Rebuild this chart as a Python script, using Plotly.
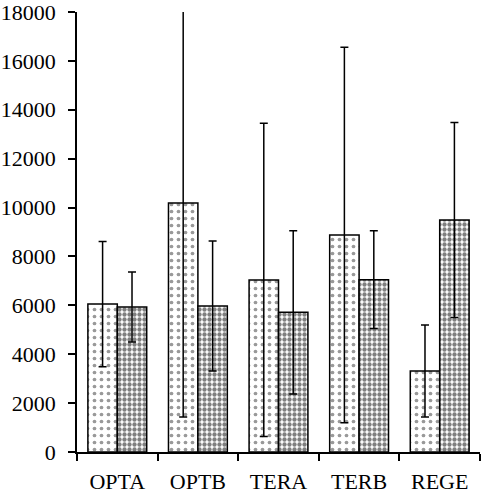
import plotly.graph_objects as go

# Group labels along the x axis
categories = ["OPTA", "OPTB", "TERA", "TERB", "REGE"]

# Means for the two series in each group
series_a = [6050, 10190, 7040, 8880, 3315]
series_b = [5930, 5970, 5715, 7050, 9490]

# Symmetric error (± one deviation) for each bar
err_a = [2560, 8760, 6410, 7680, 1885]
err_b = [1430, 2660, 3340, 2000, 3985]

# Y axis tick values
y_ticks = [0, 2000, 4000, 6000, 8000, 10000, 12000, 14000, 16000, 18000]

serif = "Liberation Serif"

fig = go.Figure()

fig.add_trace(go.Bar(
    x=categories, y=series_a,
    error_y=dict(type="data", array=err_a, visible=True,
                 color="black", thickness=1.5, width=4),
    marker=dict(color="white",
                line=dict(color="black", width=1.5),
                pattern=dict(shape=".", fgcolor="#333333", bgcolor="white",
                             size=7, solidity=0.22)),
    showlegend=False,
))

fig.add_trace(go.Bar(
    x=categories, y=series_b,
    error_y=dict(type="data", array=err_b, visible=True,
                 color="black", thickness=1.5, width=4),
    marker=dict(color="white",
                line=dict(color="black", width=1.5),
                pattern=dict(shape=".", fgcolor="black", bgcolor="white",
                             size=5, solidity=0.6)),
    showlegend=False,
))

fig.update_layout(
    width=483, height=498,
    margin=dict(l=77, r=3, t=12, b=46),
    paper_bgcolor="white",
    plot_bgcolor="white",
    barmode="group",
    bargap=0.27,
    bargroupgap=0,
    font=dict(family=serif, size=22, color="black"),
)

fig.update_xaxes(
    type="category",
    automargin=False,
    showline=True, linecolor="black", linewidth=1.5,
    ticks="outside", tickson="boundaries", ticklen=7,
    tickcolor="black", tickwidth=1.5,
    ticklabelstandoff=9,
    showgrid=False, zeroline=False,
    tickfont=dict(family=serif, size=22, color="black"),
)

fig.update_yaxes(
    range=[0, 18000],
    automargin=False,
    tickvals=y_ticks,
    ticktext=[str(v) for v in y_ticks],
    ticklabeloverflow="allow",
    showline=True, linecolor="black", linewidth=1.5,
    ticks="outside", ticklen=7, tickcolor="black", tickwidth=1.5,
    ticklabelstandoff=8,
    showgrid=False, zeroline=False,
    tickfont=dict(family=serif, size=22, color="black"),
)

fig.write_html("out.html")
